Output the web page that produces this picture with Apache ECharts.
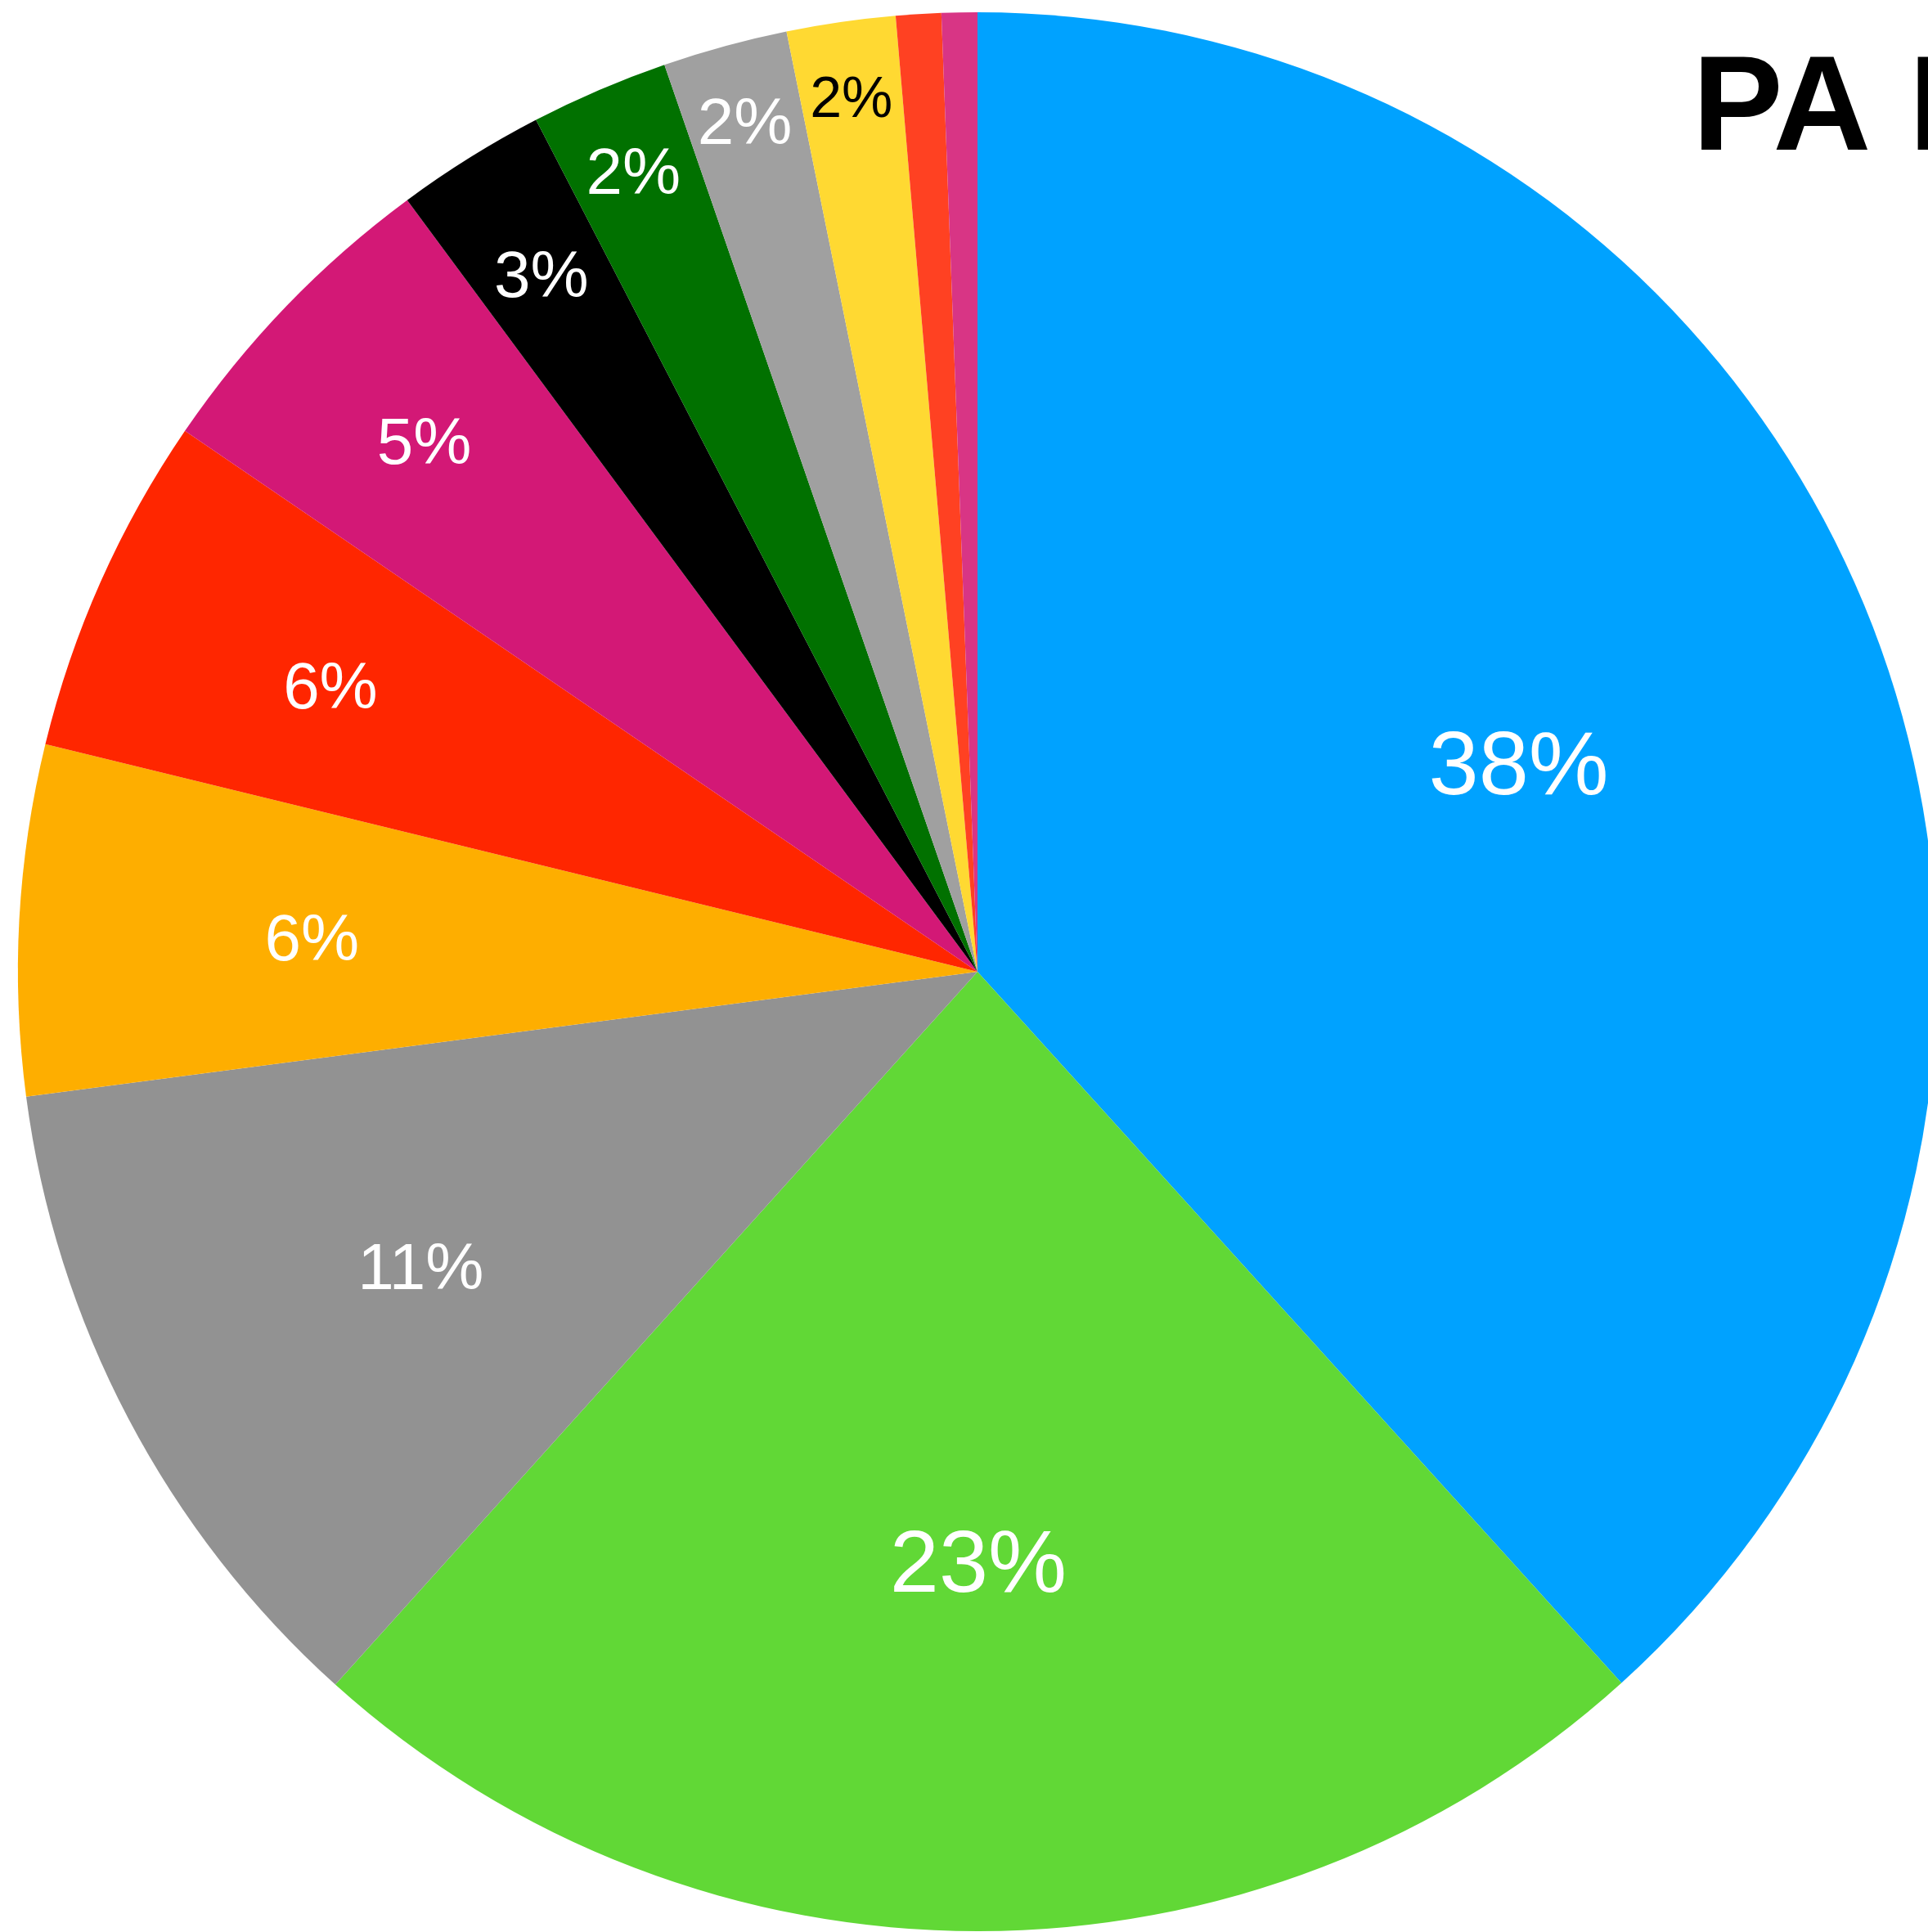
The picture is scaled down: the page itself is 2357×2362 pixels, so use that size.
<!DOCTYPE html>
<html>
<head>
<meta charset="utf-8">
<script src="https://cdn.jsdelivr.net/npm/echarts@6/dist/echarts.min.js"></script>
<style>
  html, body { margin: 0; padding: 0; background: #fff; }
  #chart { width: 2357px; height: 2362px; }
</style>
</head>
<body>
<div id="chart"></div>
<script>
// slices, clockwise from 12 o'clock
const names = ['A', 'B', 'C', 'D', 'E', 'F', 'G', 'H', 'I', 'J', 'K', 'L']
const shares = [38.29, 23.38, 11.25, 5.89, 5.72, 5.34, 2.52, 2.32, 2.10, 1.83, 0.76, 0.60]
const colors = ['#00A2FF', '#61D836', '#929292', '#FEAE00', '#FF2600', '#D31876',
  '#000000', '#017100', '#A0A0A0', '#FFD932', '#FF4122', '#D83585']
// label placement (distance from centre, px), size and colour; null = no label
const labelDist = [706, 717, 766, 812, 863, 936, 1005, 1064, 1077, 1080, null, null]
const labelSize = [110, 108, 80, 80, 80, 80, 80, 80, 80, 70, 0, 0]
const labelColor = ['#fff', '#fff', '#fff', '#fff', '#fff', '#fff', '#fff', '#fff', '#fff', '#000', '#fff', '#fff']

const center = [1195, 1188]
const radius = 1173

const pieData = names.map((n, i) => ({ name: n, value: shares[i], itemStyle: { color: colors[i] } }))

const series = [{
  type: 'pie',
  center: center,
  radius: [0, radius],
  startAngle: 90,
  clockwise: true,
  silent: true,
  animation: false,
  label: { show: false },
  labelLine: { show: false },
  itemStyle: { borderWidth: 0 },
  data: pieData
}]

// one thin transparent ring per label so each label sits at its own distance
labelDist.forEach((d, idx) => {
  if (d === null) return
  series.push({
    type: 'pie',
    center: center,
    radius: [d - 1, d + 1],
    startAngle: 90,
    clockwise: true,
    silent: true,
    animation: false,
    labelLine: { show: false },
    itemStyle: { color: 'rgba(0,0,0,0)', borderWidth: 0 },
    data: names.map((n, i) => ({
      name: n,
      value: shares[i],
      label: {
        show: i === idx,
        position: 'inside',
        formatter: p => Math.round(p.value) + '%',
        color: labelColor[i],
        fontSize: labelSize[i],
        fontFamily: 'Liberation Sans, Arial, sans-serif',
        fontWeight: 'normal',
        offset: [0, 8]
      }
    }))
  })
})

const myChart = echarts.init(document.getElementById('chart'))
myChart.setOption({
  animation: false,
  title: {
    text: 'PA Primary',
    left: 2069,
    top: 54,
    padding: 0,
    textStyle: {
      fontSize: 166,
      fontWeight: 'bold',
      color: '#000',
      fontFamily: 'Liberation Sans, Arial, sans-serif'
    }
  },
  series: series
})
</script>
</body>
</html>
